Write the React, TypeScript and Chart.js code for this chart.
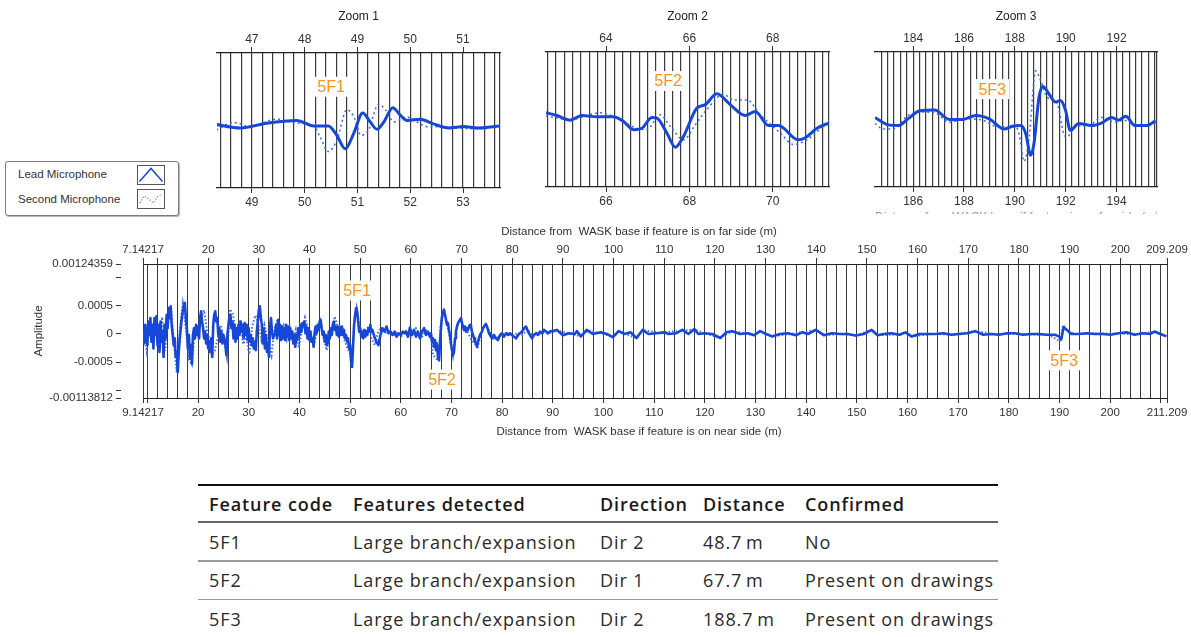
import React, { useEffect, useRef } from 'react';
import { Chart, registerables } from 'chart.js';

Chart.register(...registerables);

const FONT_FAMILY = "'Liberation Sans', Arial, sans-serif";
Chart.defaults.font.family = FONT_FAMILY;

const LEAD_COLOR = '#1747d8';
const SECOND_COLOR = '#3f6fe6';
const LABEL_COLOR = '#f7931e';
const GRID_COLOR = '#3a3a3a';
const AXIS_COLOR = '#333333';
const TEXT_COLOR = '#333333';

// ---------------- Legend ----------------
const seriesNames = ['Lead Microphone', 'Second Microphone'];

// ---------------- Zoom 1 (around 5F1) ----------------
const zoom1FarRange = [46.34, 51.7];
const zoom1NearRange = [48.34, 53.7];
const zoom1FarTicks = [47, 48, 49, 50, 51];
const zoom1NearTicks = [49, 50, 51, 52, 53];
const zoom1LeadDist = [46.33, 46.78, 47.28, 47.85, 48.17, 48.45, 48.61, 48.77, 48.93, 49.1, 49.24, 49.37, 49.5, 49.67, 49.81, 49.94, 50.19, 50.44, 50.73, 51.01, 51.27, 51.71];
const zoom1LeadAmp = [-0.06, -0.11, -0.04, 0.0, -0.08, -0.08, -0.22, -0.42, -0.19, 0.11, -0.02, -0.13, -0.02, 0.19, 0.08, 0.0, 0.02, -0.05, -0.11, -0.09, -0.11, -0.08];
const zoom1SecondDist = [46.33, 46.65, 46.97, 47.47, 47.85, 48.17, 48.29, 48.45, 48.61, 48.8, 48.93, 49.07, 49.21, 49.4, 49.53, 49.69, 49.94, 50.32, 50.57, 51.08, 51.39, 51.71];
const zoom1SecondAmp = [-0.14, -0.03, -0.09, 0.02, -0.04, -0.08, -0.24, -0.46, -0.29, 0.16, 0.06, -0.22, -0.14, 0.24, 0.16, -0.02, 0.05, -0.09, -0.09, -0.12, -0.12, -0.07];

// ---------------- Zoom 2 (around 5F2) ----------------
const zoom2FarRange = [62.56, 69.35];
const zoom2NearRange = [64.56, 71.35];
const zoom2FarTicks = [64, 66, 68];
const zoom2NearTicks = [66, 68, 70];
const zoom2LeadDist = [62.56, 62.82, 63.14, 63.42, 63.78, 64.18, 64.42, 64.66, 64.86, 65.1, 65.22, 65.46, 65.66, 65.86, 66.18, 66.38, 66.66, 66.98, 67.34, 67.58, 67.9, 68.14, 68.61, 68.78, 69.06, 69.36];
const zoom2LeadAmp = [0.1, 0.06, -0.01, 0.06, 0.04, 0.04, -0.03, -0.15, -0.13, 0.03, 0.02, -0.2, -0.41, -0.25, 0.17, 0.22, 0.38, 0.22, 0.06, 0.12, -0.09, -0.09, -0.3, -0.27, -0.13, -0.05];
const zoom2SecondDist = [62.56, 63.14, 63.86, 64.26, 64.74, 64.98, 65.3, 65.54, 65.86, 66.14, 66.42, 66.82, 67.06, 67.38, 67.7, 68.18, 68.5, 68.82, 69.36];
const zoom2SecondAmp = [0.05, 0.0, 0.1, 0.02, -0.13, -0.15, 0.07, -0.1, -0.3, -0.08, 0.15, 0.37, 0.29, 0.29, 0.07, -0.2, -0.37, -0.3, -0.01];

// ---------------- Zoom 3 (around 5F3) ----------------
const zoom3FarRange = [182.5, 193.59];
const zoom3NearRange = [184.5, 195.59];
const zoom3FarTicks = [184, 186, 188, 190, 192];
const zoom3NearTicks = [186, 188, 190, 192, 194];
const zoom3LeadDist = [182.5, 183.02, 183.41, 183.8, 184.26, 184.84, 185.43, 185.95, 186.47, 186.99, 187.58, 187.9, 188.23, 188.43, 188.62, 188.75, 188.95, 189.1, 189.34, 189.6, 189.79, 189.99, 190.18, 190.51, 191.03, 191.42, 191.81, 192.07, 192.36, 192.72, 193.18, 193.53];
const zoom3LeadAmp = [0.03, -0.08, -0.09, 0.01, 0.13, 0.14, 0.0, 0.0, 0.06, 0.01, -0.14, -0.1, -0.09, -0.21, -0.53, -0.36, 0.33, 0.49, 0.38, 0.26, 0.28, 0.14, -0.16, -0.06, -0.09, -0.05, 0.03, -0.01, 0.05, -0.09, -0.09, -0.02];
const zoom3SecondDist = [182.5, 182.82, 183.21, 183.8, 184.39, 184.84, 185.43, 186.08, 186.73, 187.25, 187.77, 188.04, 188.19, 188.36, 188.55, 188.82, 189.01, 189.27, 189.66, 189.92, 190.05, 190.38, 190.9, 191.42, 191.94, 192.29, 192.59, 193.1, 193.53];
const zoom3SecondAmp = [-0.06, -0.14, -0.14, 0.06, 0.11, 0.1, -0.04, 0.01, -0.01, -0.1, -0.11, -0.11, -0.26, -0.62, -0.31, 0.72, 0.58, 0.33, 0.24, -0.21, -0.26, -0.1, -0.09, 0.03, -0.04, -0.01, -0.06, -0.1, -0.04];

const zoomFeatureLabels = ['5F1', '5F2', '5F3'];
const zoomFeatureLabelDist = [48.5, 65.49, 187.11];
const zoomFeatureLabelLevel = [0.5, 0.57, 0.45];
const zoom3ClippedTitle = 'Distance from  WASK base if feature is on far side (m)';

// ---------------- Main chart ----------------
const mainFarRange = [7.14217, 209.209];
const mainNearRange = [9.14217, 211.209];
const mainFarTicks = [7.14217, 10, 20, 30, 40, 50, 60, 70, 80, 90, 100, 110, 120, 130, 140, 150, 160, 170, 180, 190, 200, 209.209];
const mainFarTickLabels = ['7.14217', '', '20', '30', '40', '50', '60', '70', '80', '90', '100', '110', '120', '130', '140', '150', '160', '170', '180', '190', '200', '209.209'];
const mainNearTicks = [9.14217, 10, 20, 30, 40, 50, 60, 70, 80, 90, 100, 110, 120, 130, 140, 150, 160, 170, 180, 190, 200, 210, 211.209];
const mainNearTickLabels = ['9.14217', '', '20', '30', '40', '50', '60', '70', '80', '90', '100', '110', '120', '130', '140', '150', '160', '170', '180', '190', '200', '', '211.209'];
const mainAmpRange = [-0.00113812, 0.00124359];
const mainAmpTicks = [-0.00113812, -0.001, -0.0005, 0, 0.0005, 0.001, 0.00124359];
const mainAmpTickLabels = ['-0.00113812', '', '-0.0005', '0', '0.0005', '', '0.00124359'];
const mainFarTitle = 'Distance from  WASK base if feature is on far side (m)';
const mainNearTitle = 'Distance from  WASK base if feature is on near side (m)';
const mainAmpTitle = 'Amplitude';

// Lead microphone trace, amplitude in units of 1e-4
const mainLeadDistA = [
  7.2, 7.4, 7.6, 7.8, 8.0, 8.2, 8.4, 8.6, 8.8, 9.0,
  9.2, 9.4, 9.6, 9.8, 10.0, 10.2, 10.4, 10.6, 10.8, 11.0,
  11.2, 11.4, 11.6, 11.8, 12.0, 12.2, 12.4, 12.6, 12.8, 13.0,
  13.2, 13.4, 13.6, 13.8, 14.0, 14.2, 14.4, 14.6, 14.8, 15.0,
  15.2, 15.4, 15.6, 15.8, 16.0, 16.2, 16.4, 16.6, 16.8, 17.0,
  17.2, 17.4, 17.6, 17.8, 18.0, 18.2, 18.4, 18.6, 18.8, 19.0,
  19.2, 19.4, 19.6, 19.8, 20.0, 20.2, 20.4, 20.6, 20.8, 21.0,
  21.2, 21.4, 21.6, 21.8, 22.0, 22.2, 22.4, 22.6, 22.8, 23.0,
  23.2, 23.4, 23.6, 23.8, 24.0, 24.2, 24.4, 24.6, 24.8, 25.0,
  25.2, 25.4, 25.6, 25.8, 26.0, 26.2, 26.4, 26.6, 26.8, 27.0,
  27.2, 27.4, 27.6, 27.8, 28.0, 28.2, 28.4, 28.6, 28.8, 29.0,
  29.2, 29.4, 29.6, 29.8, 30.0, 30.2, 30.4, 30.6, 30.8, 31.0,
  31.2, 31.4, 31.6, 31.8, 32.0, 32.2, 32.4, 32.6, 32.8, 33.0,
  33.2, 33.4, 33.6, 33.8, 34.0, 34.2, 34.4, 34.6, 34.8, 35.0,
  35.2, 35.4, 35.6, 35.8, 36.0, 36.2, 36.4, 36.6, 36.8, 37.0,
  37.2, 37.4, 37.6, 37.8, 38.0, 38.2, 38.4, 38.6, 38.8, 39.0,
  39.2, 39.4, 39.6, 39.8, 40.0, 40.2, 40.4, 40.6, 40.8, 41.0,
  41.2, 41.4, 41.6, 41.8, 42.0, 42.2, 42.4, 42.6, 42.8, 43.0,
  43.2, 43.4, 43.6, 43.8, 44.0, 44.2, 44.4, 44.6, 44.8, 45.0,
  45.2, 45.4, 45.6, 45.8, 46.0, 46.2, 46.4, 46.6, 46.8, 47.0,
  47.2, 47.4, 47.6, 47.8, 48.0, 48.2, 48.4, 48.6, 48.8, 49.0,
  49.2, 49.4, 49.6, 49.8, 50.0, 50.2, 50.4, 50.6, 50.8, 51.0,
  51.2, 51.4, 51.6, 51.8, 52.0, 52.2, 52.4,
];
const mainLeadAmpA = [
  0.42, -1.68, 1.62, -0.78, -1.98, 2.22, -0.18, 2.82, -1.38, 1.62,
  -2.58, 2.82, -0.18, 3.12, -1.98, 1.62, -3.18, 2.22, -1.38, 0.42,
  -4.08, 1.62, -0.78, 3.42, 1.02, 4.62, 2.82, 4.92, 1.62, -0.18,
  -1.98, -0.78, -4.08, -3.18, -6.78, -3.18, -0.78, 1.02, 2.82, 4.02,
  5.22, 5.52, 2.82, 1.02, -2.58, -0.18, -4.38, -1.98, -5.28, -0.18,
  1.02, -0.78, 1.62, -0.18, 1.32, -0.78, 2.82, 4.02, 2.22,
  1.02, -0.78, 0.42, -1.68, -0.18, -2.58, -1.38, -3.18, -0.78, -4.08,
  1.62, 3.42, 4.02, 2.22, 2.82, -0.18, 1.02, -1.38, 0.42, -1.68,
  -0.18, -0.78, -1.98, -3.78, -0.18, 1.62, 3.12, 3.42, 1.02, 2.22,
  -0.78, 1.62, -1.38, 1.02, -0.78, 1.62, -0.18, 2.22, 0.42, 1.62,
  -0.78, 1.92, -0.18, 1.62, -1.08, 1.02, -1.38, -0.18, -1.98, -0.78,
  -2.58, -1.38, -2.88, 0.42, 2.22, 4.32, 4.92, 2.82, 1.62,
  -1.68, 1.02, -2.58, -0.18, -3.18, -1.68, -4.08, 1.02, 2.82, 0.42,
  -0.78, -0.18,
  -0.18, 1.62, -0.78, 2.52, -0.18, 1.62, -1.08, 1.32, -0.78, 1.02,
  -1.08, 1.62, -0.48, 1.32, -1.08, 1.02, -0.78, 0.42, -1.68, -0.18,
  -2.28, -0.18, -1.08, 1.02, -0.18, 1.62, 0.42, 1.92, 1.32, 2.22,
  0.12, 1.32, -0.78, 1.02, -1.08, 0.42, -1.38, -0.78, -2.28, 0.12,
  1.32, 0.12, 1.62, 0.72, 2.22, 2.52, 1.02, -0.18, 0.42, -1.38,
  -0.18, -1.98, -1.68, 0.42, -0.78, 1.02, -0.18, 1.62, 2.22,
  0.72, 1.32, -0.18, 1.32, -0.48, 1.02, -0.18, 1.32, -0.18, 0.72,
  -0.78, -0.18, -1.38, -0.78, -2.58, -1.98, -4.68, -5.88, -1.98, 1.62,
  3.42, 4.62, 4.02, 2.22, 0.42, 1.02, -0.48, 0.42, -0.78, 0.72,
  -0.48, 0.42, -0.18, 1.02, 0.42, 1.62, 0.42, 0.72,
];
const mainLeadDistB = [52.8, 53.2, 53.6, 54.0, 54.4, 54.8, 55.2, 55.6, 56.0, 56.4, 56.8, 57.2, 57.6, 58.0, 58.4, 58.8];
const mainLeadAmpB = [-0.48, -1.38, -1.98, -0.18, 1.02, 0.42, 1.32, 0.12, 0.42, -0.18, 0.42, -0.48, 0.12, -0.18, 0.42, 0.12];
const mainLeadDistC = [
  59.03, 59.43, 59.82, 60.22, 60.61, 61.01, 61.4, 61.8, 62.19, 62.59, 62.98, 63.38, 63.77,
  63.97, 64.17, 64.36, 64.56, 64.76, 64.96, 65.15, 65.35, 65.55, 65.74,
  65.94, 66.14, 66.34, 66.53, 66.73, 66.93, 67.13, 67.32, 67.52, 67.72,
  67.92, 68.11, 68.31, 68.51, 68.71, 68.9, 69.1, 69.3, 69.49, 69.69,
  69.89, 70.09, 70.28, 70.48, 70.68, 70.88, 71.07, 71.27, 71.47, 71.67,
  71.86, 72.06, 72.26, 72.46, 72.65, 72.85, 73.05, 73.24, 73.44, 73.64,
  73.84, 74.03, 74.23, 74.43, 74.63, 74.82, 75.02, 75.22, 75.42, 75.61,
  76.01, 76.4, 76.8, 77.19, 77.59, 77.98, 78.38, 78.77, 79.17, 79.56,
  79.96, 80.35, 80.75, 81.14, 81.54, 81.93, 82.33, 82.72, 83.12, 83.51,
  83.91, 84.3, 84.69, 85.09, 85.48, 85.88, 86.27, 86.67, 87.06, 87.46,
];
const mainLeadAmpC = [
  0.42, -0.48, 1.14, -0.18, 0.72, -0.48, 0.42, -0.78, 0.42, 1.02, -0.18, 0.42, -0.48,
  0.12, -1.38, -0.78, -2.28, -1.08, -2.88, -1.68, -4.08, -4.68, -1.98,
  1.02, 3.12, 3.72, 4.32, 3.42, 2.52, 1.62, 1.92, 0.72, -0.18,
  -1.68, -2.88, -3.78, -3.18, -0.78, 0.42, 1.32, 1.92, 2.22, 2.52,
  2.82, 1.92, 1.32, 0.72, 1.32, 0.42, 1.02, 0.72, 1.32, 1.62,
  1.32, 0.42, -0.18, -0.78, -1.38, -1.68, -2.28, -1.38, -0.78, -0.18,
  0.12, 0.42, 1.02, 1.32, 1.62, 1.74, 1.32, 0.72, 0.12, -0.18,
  -0.78, -0.18, -0.78, -1.08, -0.18, 0.12, -0.48, 0.12, -0.18, 0.12,
  -0.18, -0.48, -0.78, -0.18, 0.12, 0.42, 1.02, 1.32, 0.42, -0.18,
  -0.78, -0.18, 0.12, -0.18, 0.42, 0.12, 0.72, 0.42, 0.12, 0.42,
];
const mainLeadDistD = [
  88.82, 90.0, 91.18, 92.36, 92.75, 93.54, 94.71, 95.89, 97.47, 98.65,
  99.82, 101.0, 102.18, 103.36, 104.54, 105.72, 106.9, 108.47, 110.04, 110.83,
  112.4, 113.58, 114.76, 115.94, 116.73, 117.91, 119.48, 121.05, 122.23, 123.41,
  124.98, 126.55, 127.73, 128.91, 130.09, 131.27, 132.84, 134.42, 135.99, 137.17,
  138.35, 139.92, 141.49, 143.06, 144.64, 146.21, 147.78, 149.35, 150.93, 152.1,
  153.28, 154.86, 156.43, 157.61, 158.79, 160.36, 161.93, 163.5, 165.08, 166.65,
  168.22, 169.79, 171.37, 172.94, 174.51, 176.08, 177.65, 179.23, 180.8, 182.37,
  183.94, 185.52, 187.09, 187.87, 188.35, 188.82, 189.45, 190.23, 191.8, 193.38,
  194.95, 196.52, 198.09, 199.67, 201.24, 202.81, 204.38, 205.96, 206.74, 207.92,
  209.1,
];
const mainLeadAmpD = [
  0.72, -0.22, 0.14, 0, 0.5, -0.43, 0.72, 0, 0.29, 0,
  -0.58, 0.5, 0, 0.29, -0.72, 0.72, 0, 0.14, 0.29, 0,
  0.14, 0.72, 0, 0.86, 0, 0.14, 0, -0.72, 0.29, 0.5,
  0, 0.14, -0.22, 0.5, 0, -0.43, 0, 0.14, -0.22, 0.29,
  0, 0.72, -0.22, 0.14, 0, 0, -0.29, 0, 0.72, -0.22,
  0, 0.14, -0.14, 0.29, -0.43, 0, 0, 0, 0.14, -0.14,
  0, 0.14, 0.5, -0.14, 0, -0.14, 0.14, 0.14, -0.14, 0,
  0, -0.14, -0.14, -0.43, -0.94, 1.22, 0.72, 0, 0, 0.14,
  0, 0, -0.14, 0.14, 0.29, -0.14, 0.14, 0, 0.43, 0,
  -0.43,
];

// Second microphone trace, amplitude in units of 1e-4
const mainSecondDistNear = [
  7.2, 7.9, 8.5, 9.1, 9.7, 10.3, 10.9, 11.5, 12.1, 12.7,
  13.2, 13.8, 14.4, 15.0, 15.6, 16.2, 16.8, 17.4, 18.0, 18.6,
  19.2, 19.8, 20.4, 20.7, 21.3, 21.9, 22.5, 23.1, 23.7, 24.3,
  24.9, 25.5, 26.3, 26.9, 27.5, 28.1, 28.7, 29.3, 29.9, 30.5,
  31.1, 31.7, 32.5, 33.1, 33.7, 34.3, 34.9, 35.5, 36.1, 36.7,
  37.3, 37.9, 38.5, 39.1, 39.7, 40.3, 40.9, 41.5, 42.1, 42.7,
  43.4, 44.0, 44.6, 45.0, 45.6, 46.2, 46.8, 47.4, 48.0, 48.3,
  48.8, 49.3, 49.9, 50.5, 51.1, 51.7, 52.3, 52.9, 53.5, 54.1,
  54.9, 55.7, 56.5, 57.3, 58.1, 59.0, 60.0, 61.0, 62.0, 63.0,
  64.0, 64.4, 65.35, 65.9, 66.5, 67.1, 67.7, 68.3, 68.9, 69.6,
  70.3, 71.0, 71.8, 72.5, 73.2, 74.0, 74.8, 75.6, 76.4, 77.2,
  78.0, 79.0, 80.0, 81.0, 82.0, 83.0, 84.0, 85.0, 86.0, 87.0,
];
const mainSecondAmpNear = [
  0.5, -3.2, 2.0, -1.8, 2.6, -2.4, 3.0, -3.0, 3.4, 4.4,
  -1.5, -6.8, 0.8, 5.4, 1.0, -4.6, -5.5, 1.2, -0.5, 2.8,
  4.2, 0.5, -1.5, -3.8, -3.0, -0.6, 1.6, -1.0, -4.1, 4.4,
  3.5, 0.2, 2.5, -1.8, -0.6, -3.6, 1.4, 3.3, 1.8, -1.0,
  1.6, -0.8, -3.8, 1.0, 2.5, 0.3, 1.5, -1.0, 1.2, -1.2,
  0.8, -2.4, 0.8, 2.9, 1.0, -1.5, -1.8, 0.4, 2.3, -0.5,
  -2.9, -0.6, 1.4, 3.1, 1.0, 1.6, -0.8, -2.4, -3.5, -5.9,
  1.8, 4.6, 1.0, -0.4, 0.6, 1.4, -1.0, -2.0, 0.2, 1.2,
  0.2, 0.5, -0.3, 0.3, -0.4, 0.5, -0.6, 1.0, -0.8, 0.6,
  -0.6, -3.8, -4.7, 1.5, 4.4, 2.2, -1.0, -3.9, 0.6, 2.6,
  1.5, 0.8, -0.8, -1.6, -2.3, 0.5, 1.8, 0.3, -0.8, -0.6,
  -0.2, 0.2, -0.4, 0.2, -0.2, 0.8, -0.3, 0.3, 0.2, 0.1,
];
const mainSecondDistFar = [
  89.0, 91.5, 93.5, 95.0, 98.0, 100.0, 101.0, 104.5, 105.8, 109.0,
  113.6, 116.0, 118.0, 121.0, 123.4, 127.7, 128.9, 131.3, 135.0, 137.2,
  139.9, 141.5, 145.0, 147.8, 150.9, 152.1, 156.4, 157.6, 158.8, 163.0,
  167.0, 171.4, 175.0, 180.0, 186.0, 188.1, 188.7, 189.5, 191.0, 196.0,
  200.0, 203.0, 206.7, 209.1,
];
const mainSecondAmpFar = [
  0.6, 0.0, -0.4, 0.6, 0.0, -0.5, 0.4, -0.7, 0.7, 0.2,
  0.6, 0.8, 0.1, -0.7, 0.5, -0.2, 0.5, -0.4, 0.0, 0.3,
  0.7, -0.2, 0.0, -0.3, 0.7, -0.2, -0.1, 0.3, -0.4, 0.0,
  -0.1, 0.5, 0.0, 0.0, -0.2, -1.3, 1.6, 0.6, 0.0, 0.1,
  0.1, -0.1, 0.4, -0.4,
];
const AMP_UNIT = 1e-4;

const mainFeatureLabels = ['5F1', '5F2', '5F3'];
const mainFeatureLabelDist = [49.37, 66.14, 188.9];
const mainFeatureLabelAmp = [0.000774, -0.00081, -0.000468];

// ---------------- Table ----------------
const tableHeaders = ['Feature code', 'Features detected', 'Direction', 'Distance', 'Confirmed'];
const featureCodes = ['5F1', '5F2', '5F3'];
const featuresDetected = ['Large branch/expansion', 'Large branch/expansion', 'Large branch/expansion'];
const featureDirections = ['Dir 2', 'Dir 1', 'Dir 2'];
const featureDistances = ['48.7\u2009m', '67.7\u2009m', '188.7\u2009m'];
const featureConfirmed = ['No', 'Present on drawings', 'Present on drawings'];

// ---------------- helpers ----------------
type Pt = { x: number; y: number };
const toPoints = (d: number[], a: number[], unit = 1): Pt[] => d.map((x, i) => ({ x, y: a[i] * unit }));

function fixedTicks(values: number[]) {
  return (axis: any) => {
    axis.ticks = values.map((v) => ({ value: v }));
  };
}

function gridTicks(min: number, max: number, step: number, withEdges: boolean) {
  return (axis: any) => {
    const t: { value: number }[] = [];
    if (withEdges) t.push({ value: min });
    const first = Math.ceil(min / step - 1e-9);
    for (let k = first; k * step <= max - 1e-6; k++) {
      const v = +(k * step).toFixed(4);
      if (v > min + 1e-6) t.push({ value: v });
    }
    t.push({ value: max });
    axis.ticks = t;
  };
}

function featureLabelPlugin(id: string, texts: string[], xs: number[], ys: number[], size: number) {
  return {
    id,
    afterDatasetsDraw(chart: any) {
      const { ctx, scales } = chart;
      ctx.save();
      ctx.font = `${size}px ${FONT_FAMILY}`;
      ctx.textAlign = 'center';
      ctx.textBaseline = 'middle';
      texts.forEach((t, i) => {
        const px = scales.x.getPixelForValue(xs[i]);
        const py = scales.y.getPixelForValue(ys[i]);
        const w = ctx.measureText(t).width + 6;
        const h = size + 4;
        ctx.fillStyle = '#ffffff';
        ctx.fillRect(px - w / 2, py - h / 2, w, h);
        ctx.fillStyle = LABEL_COLOR;
        ctx.fillText(t, px, py + 1);
      });
      ctx.restore();
    },
  };
}

// ---------------- Zoom chart ----------------
interface ZoomSpec {
  title: string;
  left: number;
  width: number;
  chartTop: number;
  chartBottom: number;
  farRange: number[];
  nearRange: number[];
  farTicks: number[];
  nearTicks: number[];
  gridStep: number;
  leadDist: number[];
  leadAmp: number[];
  secondDist: number[];
  secondAmp: number[];
  labelIndex: number;
}

const CANVAS_H_ZOOM = 220;

function ZoomChart({ spec }: { spec: ZoomSpec }) {
  const ref = useRef<HTMLCanvasElement>(null);
  useEffect(() => {
    if (!ref.current) return;
    const titleH = 9 + 12 * 1.2 + 4;
    const chart = new Chart(ref.current, {
      type: 'line',
      data: {
        datasets: [
          {
            label: seriesNames[0],
            data: toPoints(spec.leadDist, spec.leadAmp),
            borderColor: LEAD_COLOR,
            borderWidth: 3,
            pointRadius: 0,
            cubicInterpolationMode: 'monotone',
            xAxisID: 'x',
            yAxisID: 'y',
          },
          {
            label: seriesNames[1],
            data: toPoints(spec.secondDist, spec.secondAmp),
            borderColor: SECOND_COLOR,
            borderWidth: 1.6,
            borderDash: [2, 3],
            pointRadius: 0,
            cubicInterpolationMode: 'monotone',
            xAxisID: 'x',
            yAxisID: 'y',
          },
        ],
      },
      options: {
        responsive: false,
        animation: false,
        devicePixelRatio: 1,
        layout: { padding: { left: 10, right: 10, top: 0, bottom: 0 } },
        plugins: {
          legend: { display: false },
          tooltip: { enabled: false },
          title: {
            display: true,
            text: spec.title,
            color: '#222',
            font: { size: 12, weight: 'normal' },
            padding: { top: 9, bottom: 4 },
          },
        },
        scales: {
          x: {
            type: 'linear',
            axis: 'x',
            position: 'top',
            min: spec.farRange[0],
            max: spec.farRange[1],
            afterBuildTicks: fixedTicks(spec.farTicks),
            afterFit: (a: any) => {
              a.height = spec.chartTop - titleH;
            },
            ticks: { autoSkip: false, maxRotation: 0, minRotation: 0, padding: 0, color: TEXT_COLOR, font: { size: 12 } },
            grid: { drawOnChartArea: false, tickLength: 6, color: AXIS_COLOR },
            border: { display: true, color: '#222', width: 1.3 },
          },
          x2: {
            type: 'linear',
            axis: 'x',
            position: 'bottom',
            min: spec.nearRange[0],
            max: spec.nearRange[1],
            afterBuildTicks: fixedTicks(spec.nearTicks),
            afterFit: (a: any) => {
              a.height = CANVAS_H_ZOOM - spec.chartBottom;
            },
            ticks: { autoSkip: false, maxRotation: 0, minRotation: 0, padding: 2, color: TEXT_COLOR, font: { size: 12 } },
            grid: { drawOnChartArea: false, tickLength: 5, color: AXIS_COLOR },
            border: { display: true, color: '#222', width: 1.3 },
          },
          xg: {
            type: 'linear',
            axis: 'x',
            position: 'bottom',
            min: spec.farRange[0],
            max: spec.farRange[1],
            afterBuildTicks: gridTicks(spec.farRange[0], spec.farRange[1], spec.gridStep, false),
            afterFit: (a: any) => {
              a.height = 0;
            },
            ticks: { display: false },
            grid: { drawOnChartArea: true, drawTicks: false, color: GRID_COLOR, lineWidth: 1.2 },
            border: { display: false },
          },
          y: {
            type: 'linear',
            display: false,
            min: -1,
            max: 1,
          },
        },
      } as any,
      plugins: [
        featureLabelPlugin(
          'zoomLabel',
          [zoomFeatureLabels[spec.labelIndex]],
          [zoomFeatureLabelDist[spec.labelIndex]],
          [zoomFeatureLabelLevel[spec.labelIndex]],
          16
        ),
      ],
    });
    return () => chart.destroy();
  }, [spec]);
  return (
    <canvas
      ref={ref}
      width={spec.width}
      height={CANVAS_H_ZOOM}
      style={{ position: 'absolute', left: spec.left, top: 0, width: spec.width, height: CANVAS_H_ZOOM, display: 'block' }}
    />
  );
}

const zoomSpecs: ZoomSpec[] = [
  {
    title: 'Zoom 1', left: 207, width: 303, chartTop: 53, chartBottom: 188,
    farRange: zoom1FarRange, nearRange: zoom1NearRange, farTicks: zoom1FarTicks, nearTicks: zoom1NearTicks, gridStep: 0.2,
    leadDist: zoom1LeadDist, leadAmp: zoom1LeadAmp, secondDist: zoom1SecondDist, secondAmp: zoom1SecondAmp, labelIndex: 0,
  },
  {
    title: 'Zoom 2', left: 536, width: 303, chartTop: 52, chartBottom: 187,
    farRange: zoom2FarRange, nearRange: zoom2NearRange, farTicks: zoom2FarTicks, nearTicks: zoom2NearTicks, gridStep: 0.2,
    leadDist: zoom2LeadDist, leadAmp: zoom2LeadAmp, secondDist: zoom2SecondDist, secondAmp: zoom2SecondAmp, labelIndex: 1,
  },
  {
    title: 'Zoom 3', left: 865, width: 302, chartTop: 52, chartBottom: 187,
    farRange: zoom3FarRange, nearRange: zoom3NearRange, farTicks: zoom3FarTicks, nearTicks: zoom3NearTicks, gridStep: 0.25,
    leadDist: zoom3LeadDist, leadAmp: zoom3LeadAmp, secondDist: zoom3SecondDist, secondAmp: zoom3SecondAmp, labelIndex: 2,
  },
];

// ---------------- Main chart ----------------
const MAIN_TOP = 220;
const MAIN_W = 1191;
const MAIN_H = 225;

function MainChart() {
  const ref = useRef<HTMLCanvasElement>(null);
  useEffect(() => {
    if (!ref.current) return;
    const leadPts = [
      ...toPoints(mainLeadDistA, mainLeadAmpA, AMP_UNIT),
      ...toPoints(mainLeadDistB, mainLeadAmpB, AMP_UNIT),
      ...toPoints(mainLeadDistC, mainLeadAmpC, AMP_UNIT),
      ...toPoints(mainLeadDistD, mainLeadAmpD, AMP_UNIT),
    ];
    const secondPts = [
      ...toPoints(mainSecondDistNear, mainSecondAmpNear, AMP_UNIT),
      ...toPoints(mainSecondDistFar, mainSecondAmpFar, AMP_UNIT),
    ];
    const tickFont = { size: 11.5 };
    const chart = new Chart(ref.current, {
      type: 'line',
      data: {
        datasets: [
          {
            label: seriesNames[0],
            data: leadPts,
            borderColor: LEAD_COLOR,
            borderWidth: 2.6,
            pointRadius: 0,
            tension: 0,
            borderJoinStyle: 'round',
            xAxisID: 'x',
            yAxisID: 'y',
          },
          {
            label: seriesNames[1],
            data: secondPts,
            borderColor: SECOND_COLOR,
            borderWidth: 2,
            borderDash: [1.5, 2],
            pointRadius: 0,
            tension: 0,
            xAxisID: 'x',
            yAxisID: 'y',
          },
        ],
      },
      options: {
        responsive: false,
        animation: false,
        devicePixelRatio: 1,
        layout: { padding: { left: 0, right: 24, top: 0, bottom: 0 } },
        plugins: { legend: { display: false }, tooltip: { enabled: false } },
        scales: {
          x: {
            type: 'linear',
            axis: 'x',
            position: 'top',
            min: mainFarRange[0],
            max: mainFarRange[1],
            afterBuildTicks: fixedTicks(mainFarTicks),
            afterFit: (a: any) => {
              a.height = 44;
            },
            ticks: {
              autoSkip: false, maxRotation: 0, minRotation: 0, padding: 1, color: TEXT_COLOR, font: tickFont,
              callback: (_v: any, i: number) => mainFarTickLabels[i],
            },
            grid: { drawOnChartArea: false, tickLength: 6, color: AXIS_COLOR },
            border: { display: true, color: '#222', width: 1 },
            title: {
              display: true, text: mainFarTitle + '          ', color: TEXT_COLOR, font: tickFont,
              padding: { top: 5, bottom: 0 },
            },
          },
          x2: {
            type: 'linear',
            axis: 'x',
            position: 'bottom',
            min: mainNearRange[0],
            max: mainNearRange[1],
            afterBuildTicks: fixedTicks(mainNearTicks),
            afterFit: (a: any) => {
              a.height = 47;
            },
            ticks: {
              autoSkip: false, maxRotation: 0, minRotation: 0, padding: 3, color: TEXT_COLOR, font: tickFont,
              callback: (_v: any, i: number) => mainNearTickLabels[i],
            },
            grid: { drawOnChartArea: false, tickLength: 5, color: AXIS_COLOR },
            border: { display: true, color: '#222', width: 1 },
            title: {
              display: true, text: mainNearTitle + '          ', color: TEXT_COLOR, font: tickFont,
              padding: { top: 0, bottom: 6 },
            },
          },
          xg: {
            type: 'linear',
            axis: 'x',
            position: 'bottom',
            min: mainFarRange[0],
            max: mainFarRange[1],
            afterBuildTicks: gridTicks(mainFarRange[0], mainFarRange[1], 2, true),
            afterFit: (a: any) => {
              a.height = 0;
            },
            ticks: { display: false },
            grid: { drawOnChartArea: true, drawTicks: false, color: GRID_COLOR, lineWidth: 1 },
            border: { display: false },
          },
          y: {
            type: 'linear',
            axis: 'y',
            position: 'left',
            weight: 1,
            min: mainAmpRange[0],
            max: mainAmpRange[1],
            afterBuildTicks: fixedTicks(mainAmpTicks),
            afterFit: (a: any) => {
              a.width = 121;
            },
            ticks: {
              autoSkip: false, padding: 3, color: TEXT_COLOR, font: tickFont,
              callback: (_v: any, i: number) => mainAmpTickLabels[i],
            },
            grid: { drawOnChartArea: false, tickLength: 5, color: AXIS_COLOR },
            border: { display: false },
            title: { display: true, text: mainAmpTitle, color: TEXT_COLOR, font: tickFont, padding: { top: 32, bottom: 0 } },
          },
          yGap: {
            type: 'linear',
            axis: 'y',
            position: 'left',
            weight: 0,
            afterFit: (a: any) => {
              a.width = 22;
            },
            ticks: { display: false },
            grid: { display: false },
            border: { display: false },
          },
        },
      } as any,
      plugins: [featureLabelPlugin('mainLabels', mainFeatureLabels, mainFeatureLabelDist, mainFeatureLabelAmp, 16)],
    });
    return () => chart.destroy();
  }, []);
  return (
    <canvas
      ref={ref}
      width={MAIN_W}
      height={MAIN_H}
      style={{ position: 'absolute', left: 0, top: MAIN_TOP, width: MAIN_W, height: MAIN_H, display: 'block' }}
    />
  );
}

// ---------------- Legend ----------------
function Legend() {
  const textStyle: React.CSSProperties = {
    position: 'absolute', left: 12, fontSize: 11.5, lineHeight: '16px', color: '#333', whiteSpace: 'nowrap',
  };
  const iconStyle: React.CSSProperties = {
    position: 'absolute', left: 131, width: 26, border: '1px solid #555', background: '#fff',
  };
  return (
    <div
      style={{
        position: 'absolute', left: 5, top: 161, width: 172, height: 53, border: '1px solid #7c7c7c',
        borderRadius: 3, boxShadow: '1px 1px 1px rgba(0,0,0,0.3)', background: '#fff', fontFamily: FONT_FAMILY,
      }}
    >
      <div style={{ ...textStyle, top: 4 }}>{seriesNames[0]}</div>
      <div style={{ ...textStyle, top: 29 }}>{seriesNames[1]}</div>
      <div style={{ ...iconStyle, top: 3, height: 18 }}>
        <svg width={26} height={18} style={{ display: 'block' }}>
          <polyline points="1.5,15.5 13,2.5 24.5,15.5" fill="none" stroke={LEAD_COLOR} strokeWidth={1.5} />
        </svg>
      </div>
      <div style={{ ...iconStyle, top: 27, height: 18 }}>
        <svg width={26} height={18} style={{ display: 'block' }}>
          <polyline points="2,13 6,6 11,9 15,13 20,6 24,4" fill="none" stroke={SECOND_COLOR} strokeWidth={1.2} strokeDasharray="1 2" />
        </svg>
      </div>
    </div>
  );
}

// Partly hidden axis title below Zoom 3 (only the tops of the glyphs show)
function ClippedZoomTitle() {
  return (
    <div style={{ position: 'absolute', left: 875, top: 210, width: 282, height: 4, overflow: 'hidden' }}>
      <div
        style={{
          position: 'absolute', left: 0, top: 0, width: 282, textAlign: 'center', fontSize: 12, lineHeight: '14px',
          color: '#9a9a9a', whiteSpace: 'nowrap', fontFamily: FONT_FAMILY,
        }}
      >
        {zoom3ClippedTitle}
      </div>
    </div>
  );
}

// ---------------- Table ----------------
const colWidths = [144, 247, 103, 102, 204];
const TABLE_LEFT = 198;
const TABLE_W = 800;

function TableRow({ cells, top, height, bold }: { cells: string[]; top: number; height: number; bold?: boolean }) {
  return (
    <div style={{ position: 'absolute', left: TABLE_LEFT, top, width: TABLE_W, height, display: 'flex', alignItems: 'center' }}>
      {cells.map((c, i) => (
        <div
          key={i}
          style={{
            width: colWidths[i], boxSizing: 'border-box', paddingLeft: 11, whiteSpace: 'nowrap',
            fontWeight: bold ? 600 : 400, color: bold ? '#1a1a1a' : '#2a2a2a',
          }}
        >
          {c}
        </div>
      ))}
    </div>
  );
}

function FeatureTable() {
  const line = (top: number, h: number, color: string) => (
    <div style={{ position: 'absolute', left: TABLE_LEFT, top, width: TABLE_W, height: h, background: color }} />
  );
  return (
    <div style={{ fontFamily: "'Open Sans', sans-serif", fontSize: 18, letterSpacing: 0.9 }}>
      {line(484, 2, '#111')}
      <TableRow cells={tableHeaders} top={486} height={35} bold />
      {line(521, 1.5, '#666')}
      {featureCodes.map((code, i) => (
        <React.Fragment key={code}>
          <TableRow
            cells={[code, featuresDetected[i], featureDirections[i], featureDistances[i], featureConfirmed[i]]}
            top={523 + i * 38.5}
            height={37}
          />
          {line(560 + i * 38.5, 1.5, i < 2 ? '#999' : '#ccc')}
        </React.Fragment>
      ))}
    </div>
  );
}

export default function App() {
  return (
    <div
      style={{
        position: 'absolute', left: 0, top: 0, width: 1191, height: 637, background: '#fff', overflow: 'hidden',
        fontFamily: FONT_FAMILY,
      }}
    >
      {zoomSpecs.map((s) => (
        <ZoomChart key={s.title} spec={s} />
      ))}
      <ClippedZoomTitle />
      <Legend />
      <MainChart />
      <FeatureTable />
    </div>
  );
}
